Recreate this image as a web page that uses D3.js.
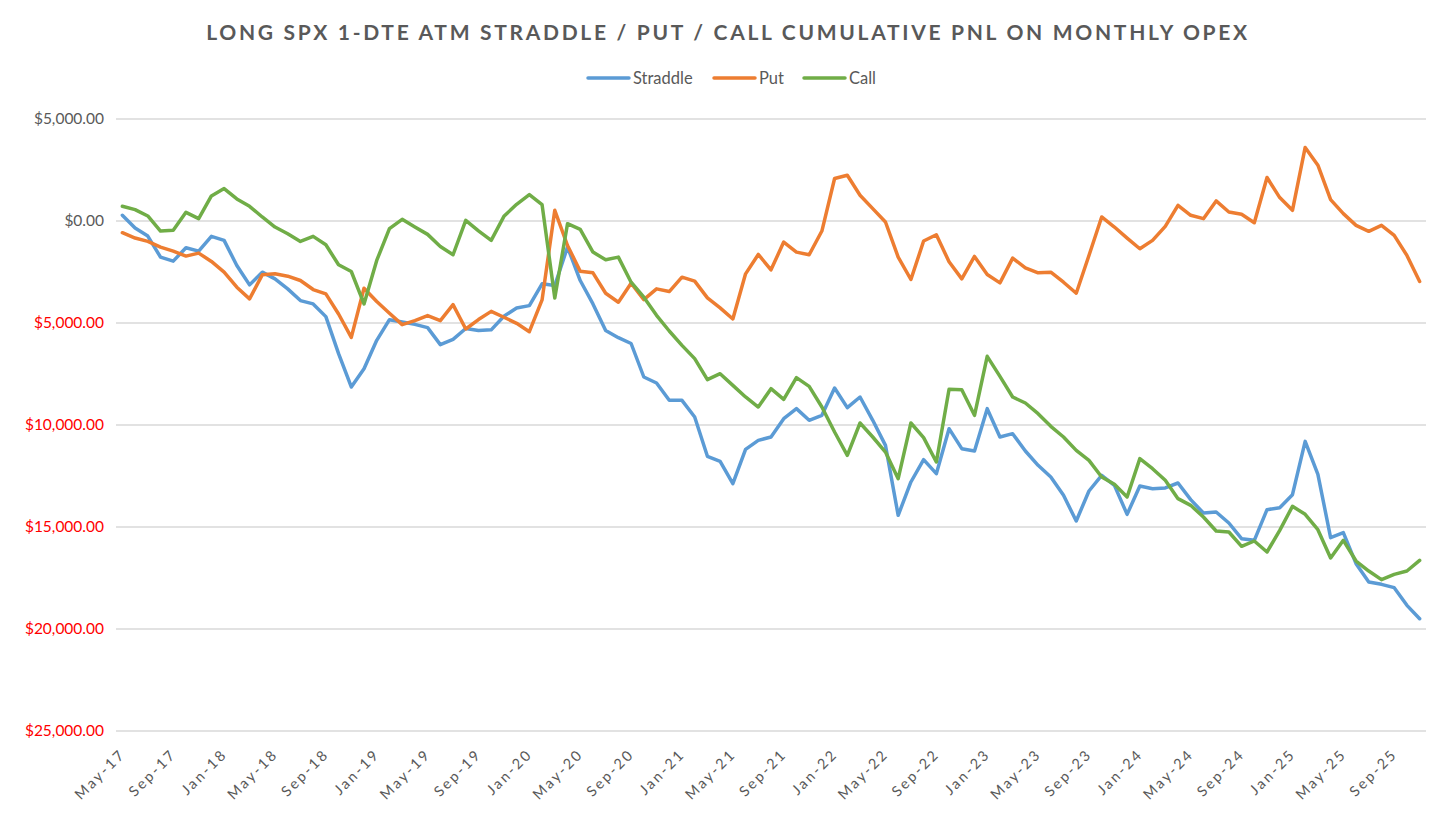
<!DOCTYPE html>
<html>
<head>
<meta charset="utf-8">
<script src="https://cdn.jsdelivr.net/npm/d3@7"></script>
<style>
  html, body { margin: 0; padding: 0; background: #fff; }
  svg { display: block; }
</style>
</head>
<body>
<svg id="chart" width="1456" height="817"></svg>
<script>
const categories = [
  "May-17","Jun-17","Jul-17","Aug-17","Sep-17","Oct-17","Nov-17","Dec-17",
  "Jan-18","Feb-18","Mar-18","Apr-18","May-18","Jun-18","Jul-18","Aug-18","Sep-18","Oct-18","Nov-18","Dec-18",
  "Jan-19","Feb-19","Mar-19","Apr-19","May-19","Jun-19","Jul-19","Aug-19","Sep-19","Oct-19","Nov-19","Dec-19",
  "Jan-20","Feb-20","Mar-20","Apr-20","May-20","Jun-20","Jul-20","Aug-20","Sep-20","Oct-20","Nov-20","Dec-20",
  "Jan-21","Feb-21","Mar-21","Apr-21","May-21","Jun-21","Jul-21","Aug-21","Sep-21","Oct-21","Nov-21","Dec-21",
  "Jan-22","Feb-22","Mar-22","Apr-22","May-22","Jun-22","Jul-22","Aug-22","Sep-22","Oct-22","Nov-22","Dec-22",
  "Jan-23","Feb-23","Mar-23","Apr-23","May-23","Jun-23","Jul-23","Aug-23","Sep-23","Oct-23","Nov-23","Dec-23",
  "Jan-24","Feb-24","Mar-24","Apr-24","May-24","Jun-24","Jul-24","Aug-24","Sep-24","Oct-24","Nov-24","Dec-24",
  "Jan-25","Feb-25","Mar-25","Apr-25","May-25","Jun-25","Jul-25","Aug-25","Sep-25","Oct-25","Nov-25"
];

const straddle = [
  280,-344,-738,-1770,-1967,-1311,-1475,-754,
  -951,-2180,-3131,-2508,-2836,-3327,-3901,-4065,-4688,-6503,-8137,-7239,
  -5850,-4837,-4951,-5065,-5229,-6062,-5800,-5270,-5370,-5335,-4670,-4261,
  -4147,-3081,-3163,-1278,-2917,-4065,-5370,-5720,-6005,-7647,-7941,-8791,
  -8791,-9608,-11536,-11781,-12876,-11193,-10752,-10588,-9690,-9199,-9771,-9526,
  -8186,-9150,-8627,-9771,-10997,-14428,-12794,-11700,-12386,-10180,-11160,-11275,
  -9199,-10588,-10425,-11275,-11977,-12549,-13448,-14706,-13236,-12467,-12958,-14379,
  -12990,-13121,-13088,-12843,-13660,-14314,-14265,-14804,-15572,-15654,-14150,-14052,
  -13415,-10801,-12418,-15523,-15278,-16798,-17696,-17811,-17974,-18840,-19494
];

const put = [
  -574,-836,-1000,-1278,-1475,-1721,-1573,-1983,
  -2508,-3245,-3819,-2639,-2590,-2704,-2917,-3360,-3573,-4557,-5704,-3294,
  -3950,-4524,-5081,-4884,-4638,-4884,-4100,-5294,-4830,-4430,-4720,-5016,
  -5425,-3868,524,-1200,-2459,-2540,-3540,-3983,-3049,-3852,-3327,-3458,
  -2754,-2950,-3770,-4261,-4802,-2590,-1639,-2393,-1033,-1524,-1655,-492,
  2082,2245,1262,606,-49,-1770,-2868,-983,-672,-2000,-2836,-1737,
  -2622,-3032,-1819,-2295,-2540,-2508,-3000,-3540,-1688,197,-295,-836,
  -1360,-951,-262,770,279,115,983,443,328,-82,2131,1147,
  524,3606,2737,1049,361,-213,-508,-213,-705,-1688,-2967
];

const call = [
  721,557,246,-492,-459,426,115,1229,
  1590,1082,721,197,-295,-623,-1000,-754,-1164,-2147,-2475,-4065,
  -1934,-377,82,-295,-656,-1246,-1655,33,-480,-951,229,820,
  1295,803,-3770,-131,-410,-1524,-1901,-1770,-3000,-3737,-4624,-5392,
  -6095,-6748,-7778,-7484,-8056,-8627,-9118,-8219,-8742,-7680,-8105,-9118,
  -10343,-11487,-9902,-10588,-11324,-12631,-9902,-10621,-11814,-8244,-8268,-9526,
  -6634,-7614,-8627,-8922,-9444,-10065,-10588,-11242,-11732,-12549,-12908,-13529,
  -11650,-12141,-12712,-13611,-13938,-14510,-15196,-15245,-15948,-15686,-16226,-15163,
  -13987,-14379,-15131,-16520,-15654,-16667,-17157,-17582,-17320,-17157,-16634
];

const tickLabels = ["May-17","Sep-17","Jan-18","May-18","Sep-18","Jan-19","May-19","Sep-19",
  "Jan-20","May-20","Sep-20","Jan-21","May-21","Sep-21","Jan-22","May-22","Sep-22",
  "Jan-23","May-23","Sep-23","Jan-24","May-24","Sep-24","Jan-25","May-25","Sep-25"];

const yTicks = [5000, 0, -5000, -10000, -15000, -20000, -25000];

const seriesNames = ["Straddle", "Put", "Call"];
const seriesColors = ["#5B9BD5", "#ED7D31", "#70AD47"];
const seriesData = [straddle, put, call];

const svg = d3.select("#chart");
const FONT = "Lato, 'Open Sans', sans-serif";

const x = d3.scaleBand().domain(categories).range([116, 1426]);
const xc = d => x(d) + x.bandwidth() / 2;
const y = d3.scaleLinear().domain([-25000, 5000]).range([731, 119]);

// Gridlines
svg.append("g").selectAll("line").data(yTicks).join("line")
  .attr("x1", 116).attr("x2", 1426)
  .attr("y1", d => y(d)).attr("y2", d => y(d))
  .attr("stroke", "#D9D9D9").attr("stroke-width", 1.3);

// Y axis labels
const fmt = d3.format("$,.2f");
svg.append("g").selectAll("text").data(yTicks).join("text")
  .attr("x", 104).attr("y", d => y(d))
  .attr("dy", "0.35em")
  .attr("text-anchor", "end")
  .attr("font-family", FONT).attr("font-size", 15.5)
  .attr("fill", d => d < 0 ? "#FF0000" : "#595959")
  .text(d => fmt(Math.abs(d)));

// X axis labels
svg.append("g").selectAll("text").data(tickLabels).join("text")
  .attr("transform", d => `translate(${xc(d) + 4},${755}) rotate(-45)`)
  .attr("text-anchor", "end")
  .attr("font-family", FONT).attr("font-size", 14.5)
  .attr("letter-spacing", "2.4px")
  .attr("fill", "#595959")
  .text(d => d);

// Lines
const line = d3.line().x((d, i) => xc(categories[i])).y(d => y(d));
svg.append("g").selectAll("path").data(seriesData).join("path")
  .attr("d", d => line(d))
  .attr("fill", "none")
  .attr("stroke", (d, i) => seriesColors[i])
  .attr("stroke-width", 3.5)
  .attr("stroke-linejoin", "round")
  .attr("stroke-linecap", "round");

// Title
svg.append("text")
  .attr("x", 728).attr("y", 40)
  .attr("text-anchor", "middle")
  .attr("font-family", FONT).attr("font-size", 21).attr("font-weight", "bold")
  .attr("letter-spacing", "2.7px")
  .attr("fill", "#595959")
  .text("LONG SPX 1-DTE ATM STRADDLE / PUT / CALL CUMULATIVE PNL ON MONTHLY OPEX");

// Legend
const legendX = [587, 713, 803];
const lg = svg.append("g").selectAll("g").data(seriesNames).join("g")
  .attr("transform", (d, i) => `translate(${legendX[i]},78)`);
lg.append("line").attr("x1", 1).attr("x2", 42).attr("y1", 0).attr("y2", 0)
  .attr("stroke", (d, i) => seriesColors[i]).attr("stroke-width", 3.5)
  .attr("stroke-linecap", "round");
lg.append("text").attr("x", 46).attr("dy", "0.35em")
  .attr("font-family", FONT).attr("font-size", 16.5)
  .attr("fill", "#595959")
  .text(d => d);
</script>
</body>
</html>
